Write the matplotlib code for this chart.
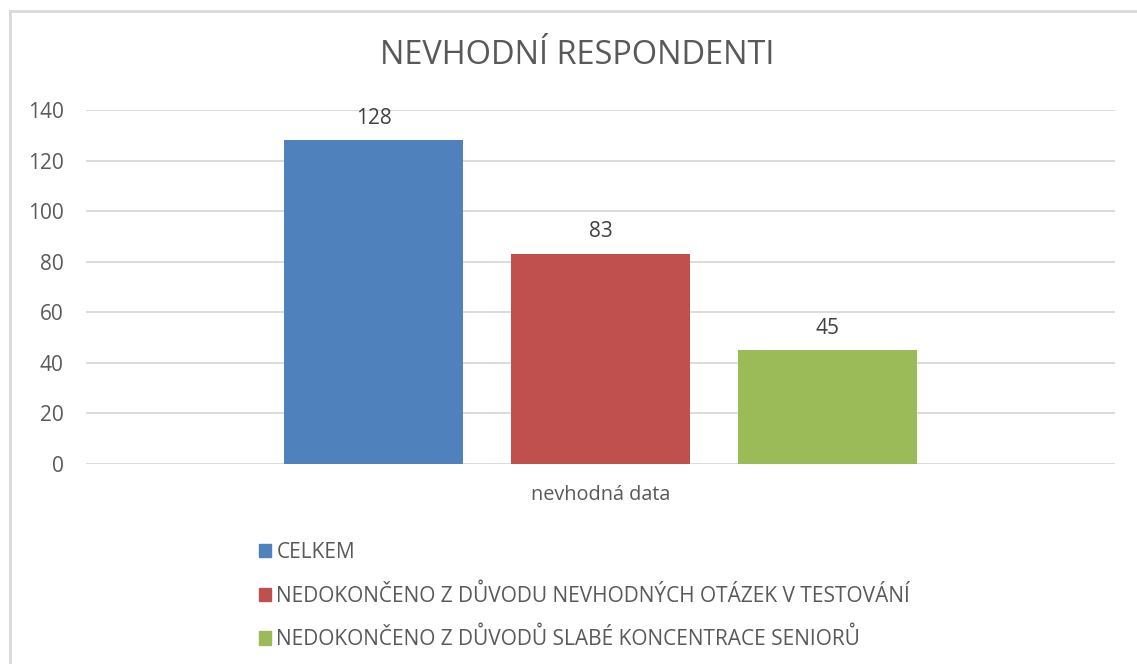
import matplotlib
matplotlib.use("Agg")
import matplotlib.pyplot as plt
from matplotlib.lines import Line2D

plt.rcParams['font.family'] = ['Open Sans', 'DejaVu Sans']

title = "NEVHODNÍ RESPONDENTI"
category = "nevhodná data"
series = [
    "CELKEM",
    "NEDOKONČENO Z DŮVODU NEVHODNÝCH OTÁZEK V TESTOVÁNÍ",
    "NEDOKONČENO Z DŮVODŮ SLABÉ KONCENTRACE SENIORŮ",
]
values = [128, 83, 45]
colors = ["#4F81BD", "#C0504D", "#9BBB59"]
yticks = [0, 20, 40, 60, 80, 100, 120, 140]

W, H = 1137, 664
fig = plt.figure(figsize=(W / 100, H / 100), dpi=100)
ax = fig.add_axes([86 / W, 1 - 464 / H, (1115 - 86) / W, (464 - 110) / H])

text_col = "#595959"
grid_col = "#D9D9D9"

bar_w = 0.174
step = 0.2206
for i, (name, v, c) in enumerate(zip(series, values, colors)):
    x = (i - 1) * step
    ax.bar(x, v, width=bar_w, color=c, label=name, zorder=3)
    ax.text(x, v + 4.6, str(v), ha="center", va="bottom", fontsize=15, color="#404040")

ax.set_xlim(-0.5, 0.5)
ax.set_ylim(0, 140)
ax.set_yticks(yticks)
ax.set_xticks([0])
ax.set_xticklabels([category])
ax.tick_params(axis="x", length=0, pad=15, labelsize=14.3, labelcolor=text_col)
ax.tick_params(axis="y", length=0, pad=16, labelsize=15, labelcolor=text_col)
ax.grid(axis="y", color=grid_col, linewidth=1.3, zorder=0)
for s in ax.spines.values():
    s.set_visible(False)

fig.text(577 / W, 1 - 55 / H, title, ha="center", va="center", fontsize=23.4, color=text_col)

handles = [plt.Rectangle((0, 0), 1, 1, color=c) for c in colors]
leg = fig.legend(handles, series, loc="upper left", bbox_to_anchor=(240 / W, 1 - 523 / H),
                 frameon=False, handlelength=0.6, handleheight=0.6, handletextpad=0.25,
                 labelspacing=1.02, fontsize=15)
for t in leg.get_texts():
    t.set_color(text_col)

# chart-area border
fig.add_artist(Line2D([10 / W, 1], [1 - 11 / H, 1 - 11 / H], transform=fig.transFigure,
                      color=grid_col, linewidth=2))
fig.add_artist(Line2D([10 / W, 10 / W], [0, 1 - 11 / H], transform=fig.transFigure,
                      color=grid_col, linewidth=2))

fig.savefig("out.png", dpi=100)
